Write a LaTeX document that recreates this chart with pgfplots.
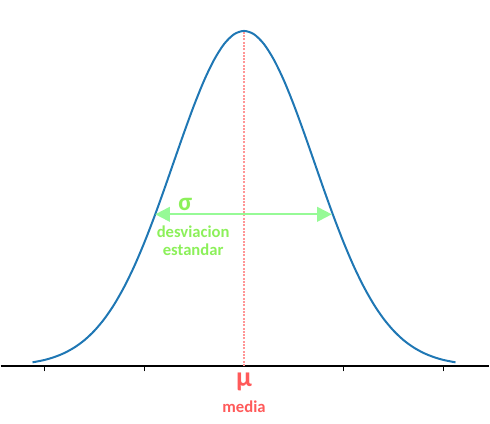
\documentclass[border=0pt]{standalone}
\usepackage{fontspec}
\setmainfont{Carlito}
\usepackage{pgfplots}
\pgfplotsset{compat=1.18}
\usetikzlibrary{arrows.meta}
\definecolor{mplblue}{RGB}{31,119,180}
\definecolor{sgreen}{RGB}{140,240,90}
\definecolor{agreen}{RGB}{150,250,150}
\definecolor{mred}{RGB}{255,90,90}
\definecolor{lred}{RGB}{255,150,150}
\begin{document}
\begin{tikzpicture}
\begin{axis}[
  scale only axis,
  width=367.5pt, height=318.75pt,
  xmin=-2.44, xmax=2.46,
  ymin=-0.0974, ymax=0.6163,
  enlargelimits=false,
  axis lines=middle,
  axis line style={-, black, line width=0.9pt},
  y axis line style={draw=none},
  ytick=\empty,
  xtick={-2,-1,0,1,2},
  xticklabels={},
  tick align=outside,
  major tick length=4pt,
  tick style={black, line width=0.9pt},
  clip=false,
]
\addplot[mplblue, line width=1.5pt, smooth] coordinates {
(-2.12,0.0063) (-2.0,0.0103) (-1.9,0.0153) (-1.8,0.0221) (-1.7,0.0314)
(-1.6,0.0436) (-1.5,0.0595) (-1.4,0.0795) (-1.3,0.1041) (-1.2,0.1337)
(-1.1,0.1682) (-1.0,0.2076) (-0.9,0.2510) (-0.8,0.2975) (-0.7,0.3457)
(-0.6,0.3936) (-0.5,0.4394) (-0.4,0.4808) (-0.3,0.5156) (-0.2,0.5421)
(-0.1,0.5586) (0.0,0.5642) (0.1,0.5586) (0.2,0.5421) (0.3,0.5156)
(0.4,0.4808) (0.5,0.4394) (0.6,0.3936) (0.7,0.3457) (0.8,0.2975)
(0.9,0.2510) (1.0,0.2076) (1.1,0.1682) (1.2,0.1337) (1.3,0.1041)
(1.4,0.0795) (1.5,0.0595) (1.6,0.0436) (1.7,0.0314) (1.8,0.0221)
(1.9,0.0153) (2.0,0.0103) (2.12,0.0063)
};
\addplot[lred, line width=1.5pt, densely dotted] coordinates {(0,0) (0,0.5642)};
\addplot[agreen, line width=1.5pt, {Triangle[length=11pt,width=11pt]}-{Triangle[length=11pt,width=11pt]}] coordinates {(-0.89,0.2555) (0.88,0.2555)};
\node[text=sgreen, font=\bfseries\fontsize{19}{19}\selectfont] at (axis cs:-0.59,0.272) {σ};
\node[text=sgreen, font=\bfseries\fontsize{12.5}{13.5}\selectfont, align=center] at (axis cs:-0.51,0.211) {desviacion\\estandar};
\node[text=mred, font=\bfseries\fontsize{21}{21}\selectfont] at (axis cs:0,-0.027) {μ};
\node[text=mred, font=\bfseries\fontsize{12.5}{13}\selectfont] at (axis cs:0,-0.069) {media};
\end{axis}
\end{tikzpicture}
\end{document}
